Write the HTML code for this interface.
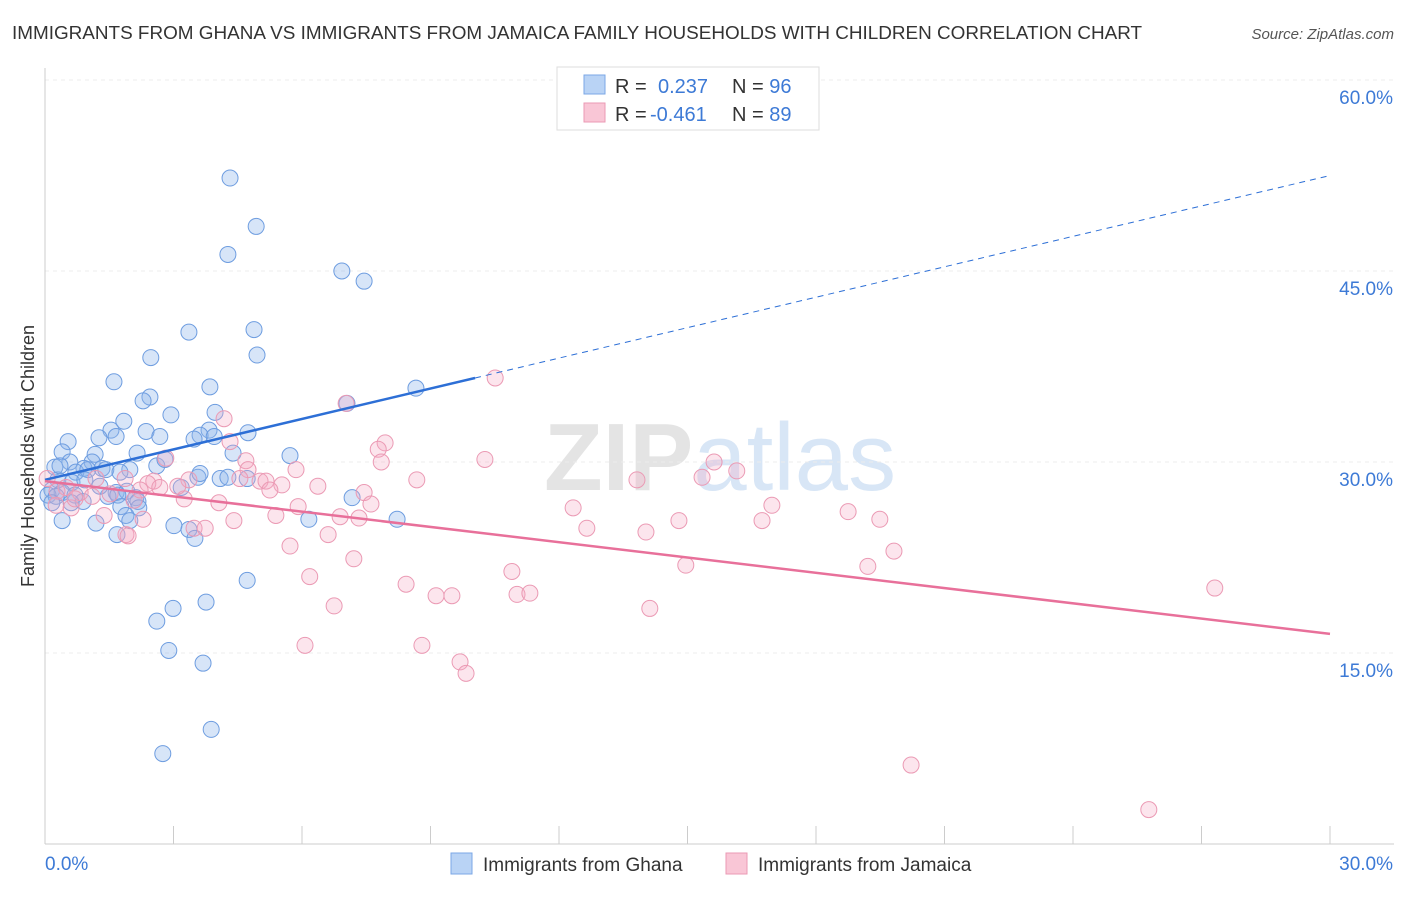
<!DOCTYPE html>
<html><head><meta charset="utf-8"><style>
body{margin:0;background:#fff;font-family:"Liberation Sans",sans-serif;}
svg text{font-family:"Liberation Sans",sans-serif;}
</style></head><body>
<svg id="chart" width="1406" height="892" xmlns="http://www.w3.org/2000/svg">
<text x="12" y="39" font-size="18.9" fill="#333">IMMIGRANTS FROM GHANA VS IMMIGRANTS FROM JAMAICA FAMILY HOUSEHOLDS WITH CHILDREN CORRELATION CHART</text>
<text x="1394" y="39" font-size="15" fill="#555" font-style="italic" text-anchor="end">Source: ZipAtlas.com</text>
<text x="720" y="490" font-size="96" fill="#e4e4e4" text-anchor="middle" font-weight="bold">ZIP<tspan fill="#d8e6f6" font-weight="normal">atlas</tspan></text>
<g id="grid"></g>
<g id="axes"></g>
<g id="marks"></g>
<text transform="translate(34,456) rotate(-90)" font-size="18" fill="#333" text-anchor="middle">Family Households with Children</text>
<g>
<rect x="557" y="67" width="262" height="63" fill="#fff" stroke="#ddd"/>
<rect x="584" y="75" width="21" height="19" fill="#b9d3f5" stroke="#7ba7e6"/>
<rect x="584" y="103" width="21" height="19" fill="#f9c6d6" stroke="#eb9ab4"/>
<text x="615" y="93" font-size="20" fill="#333">R = <tspan x="658" fill="#3d7ad6">0.237</tspan><tspan x="732" fill="#333">N = </tspan><tspan fill="#3d7ad6">96</tspan></text>
<text x="615" y="121" font-size="20" fill="#333">R = <tspan x="650" fill="#3d7ad6">-0.461</tspan><tspan x="732" fill="#333">N = </tspan><tspan fill="#3d7ad6">89</tspan></text>
</g>
<g>
<rect x="451" y="853" width="21" height="21" fill="#b9d3f5" stroke="#7ba7e6"/>
<text x="483" y="871" font-size="19" fill="#333">Immigrants from Ghana</text>
<rect x="726" y="853" width="21" height="21" fill="#f9c6d6" stroke="#eb9ab4"/>
<text x="758" y="871" font-size="19" fill="#333">Immigrants from Jamaica</text>
</g>
</svg>
<script>
const ghanaX=[4.32,4.93,4.27,6.93,7.45,3.36,4.88,4.95,2.47,1.61,3.85,8.66,2.45,2.29,7.05,3.97,2.94,1.84,1.54,3.83,4.74,2.36,3.62,2.68,1.66,1.26,3.48,0.54,3.95,0.40,2.15,1.17,4.39,5.72,0.58,1.10,0.23,0.91,1.33,1.42,1.98,2.61,2.80,0.72,1.00,1.75,3.57,4.09,4.27,4.72,0.30,0.63,3.18,0.16,0.40,1.66,1.91,0.07,0.26,0.70,1.47,1.70,2.12,7.17,0.16,0.89,0.61,2.17,1.77,2.19,1.89,1.98,0.40,1.19,6.16,8.22,3.01,3.36,3.50,1.68,4.72,3.76,2.99,2.61,2.89,3.69,3.88,2.75,0.35,0.93,1.28,3.62];
const ghanaY=[52.3,48.5,46.3,45.0,44.2,40.2,40.4,38.4,38.2,36.3,35.9,35.8,35.1,34.8,34.6,33.9,33.7,33.2,32.5,32.5,32.3,32.4,32.1,32.0,32.0,31.9,31.8,31.6,32.0,30.8,30.7,30.6,30.7,30.5,30.0,30.0,29.6,29.5,29.5,29.4,29.4,29.7,30.2,29.2,29.4,29.2,28.8,28.7,28.8,28.7,28.6,28.4,28.0,27.8,27.6,27.6,27.7,27.4,27.3,27.4,27.3,27.4,27.2,27.2,26.8,26.9,26.8,26.9,26.5,26.4,25.8,25.4,25.4,25.2,25.5,25.5,25.0,24.7,24.0,24.3,20.7,19.0,18.5,17.5,15.2,14.2,9.0,7.1,29.7,28.6,28.1,29.1];
const jamX=[10.51,7.03,4.18,7.94,7.78,4.32,7.85,10.27,15.62,16.15,2.82,4.69,5.86,4.74,15.34,13.82,8.68,2.54,1.87,3.36,5.02,5.16,5.53,6.37,7.45,5.25,1.19,0.49,0.82,0.28,2.40,3.25,4.06,5.91,7.61,12.33,16.97,18.75,1.38,2.29,5.39,6.89,7.33,4.41,14.80,16.74,19.49,12.65,14.03,3.48,3.74,1.89,6.61,5.72,19.82,7.21,14.96,19.21,10.90,6.18,8.43,27.31,9.13,9.50,11.02,11.32,6.75,14.12,6.07,8.80,9.69,9.83,20.22,25.77,0.26,0.61,1.10,2.08,1.52,2.22,0.05,2.68,3.10,0.70,1.94,4.55];
const jamY=[36.6,34.6,33.4,31.5,31.0,31.6,30.0,30.2,30.0,29.3,30.3,30.1,29.4,29.4,28.8,28.6,28.6,28.5,28.7,28.6,28.5,28.5,28.2,28.1,27.6,27.8,28.7,28.0,27.6,27.7,28.3,27.1,26.8,26.5,26.7,26.4,26.6,26.1,25.8,25.5,25.8,25.7,25.6,25.4,25.4,25.4,25.5,24.8,24.5,24.8,24.8,24.3,24.3,23.4,23.0,22.4,21.9,21.8,21.4,21.0,20.4,20.1,19.5,19.5,19.6,19.7,18.7,18.5,15.6,15.6,14.3,13.4,6.2,2.7,26.6,26.4,27.3,27.0,27.5,27.8,28.7,28.0,28.1,27.1,24.2,28.7];
const ghanaTrend=[28.6,52.5]; const ghanaSolidEnd=10.04;
const jamTrend=[28.5,16.5];
const yTicks=[15,30,45,60];
const xTickCount=10;
const NS='http://www.w3.org/2000/svg';
const X=v=>45+v/30*1285, Y=v=>844-v*764/60;
function mk(g,tag,a){const e=document.createElementNS(NS,tag);for(const k in a)e.setAttribute(k,a[k]);document.getElementById(g).appendChild(e);return e;}
yTicks.forEach(t=>{
  const l=mk('grid','line',{x1:45,x2:1394,y1:Y(t),y2:Y(t),stroke:'#ececec','stroke-dasharray':'4,4'});
  
  
  const tx=mk('axes','text',{x:1393,y:Y(t)+24,'font-size':19,fill:'#3d7ad6','text-anchor':'end'});
  tx.textContent=t.toFixed(1)+'%';
  
  
});
mk('axes','line',{x1:45,x2:45,y1:68,y2:844,stroke:'#ccc'});
mk('axes','line',{x1:45,x2:1394,y1:844,y2:844,stroke:'#ccc'});
for(let i=0;i<=xTickCount;i++){const x=X(i*30/xTickCount);const t=mk('axes','line',{x1:x,x2:x,y1:826,y2:844,stroke:'#ccc'});
  
  }
const x0=mk('axes','text',{x:45,y:870,'font-size':19,fill:'#3d7ad6'});x0.textContent='0.0%';


const x1=mk('axes','text',{x:1393,y:870,'font-size':19,fill:'#3d7ad6','text-anchor':'end'});x1.textContent='30.0%';


ghanaX.forEach((v,i)=>{const c=mk('marks','circle',{cx:X(v),cy:Y(ghanaY[i]),r:8,fill:'rgba(140,180,235,0.35)',stroke:'#6e9de0','stroke-width':1});
  
  });
jamX.forEach((v,i)=>{const c=mk('marks','circle',{cx:X(v),cy:Y(jamY[i]),r:8,fill:'rgba(245,170,195,0.3)',stroke:'#eb9ab4','stroke-width':1});
  
  });
const gy=x=>ghanaTrend[0]+(ghanaTrend[1]-ghanaTrend[0])*x/30;
const gl=mk('marks','line',{x1:X(0),y1:Y(ghanaTrend[0]),x2:X(ghanaSolidEnd),y2:Y(gy(ghanaSolidEnd)),stroke:'#2d6fd6','stroke-width':2.5});


const gd=mk('marks','line',{x1:X(ghanaSolidEnd),y1:Y(gy(ghanaSolidEnd)),x2:X(30),y2:Y(ghanaTrend[1]),stroke:'#2d6fd6','stroke-width':1,'stroke-dasharray':'6,5'});


const jl=mk('marks','line',{x1:X(0),y1:Y(jamTrend[0]),x2:X(30),y2:Y(jamTrend[1]),stroke:'#e8709a','stroke-width':2.5});


</script>
</body></html>
